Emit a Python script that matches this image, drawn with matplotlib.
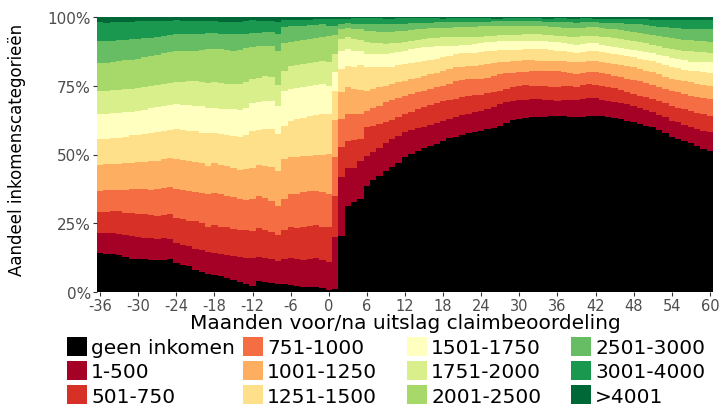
import numpy as np
import matplotlib
matplotlib.use("Agg")
import matplotlib.pyplot as plt
from matplotlib.patches import Patch

plt.rcParams['axes.unicode_minus'] = False

# months relative to the claim decision
maanden = list(range(-36, 61))

categorieen = ['geen inkomen', '1-500', '501-750', '751-1000', '1001-1250', '1251-1500',
               '1501-1750', '1751-2000', '2001-2500', '2501-3000', '3001-4000', '>4001']
kleuren = ['#000000', '#a50026', '#d73027', '#f46d43', '#fdae61', '#fee08b',
           '#ffffbf', '#d9ef8b', '#a6d96a', '#66bd63', '#1a9850', '#006837']

# cumulative share (%) at the upper edge of each income band, per month
cum_geen_inkomen = [
    14.2, 14.0, 14.0, 13.4, 12.7, 12.1, 11.9, 11.9, 11.5, 11.8, 11.5, 11.9,
    10.5, 10.0, 9.5, 8.1, 7.3, 6.4, 6.3, 5.7, 5.2, 4.5, 3.6, 3.0,
    2.2, 3.9, 3.6, 3.3, 3.0, 2.9, 2.7, 2.2, 1.9, 1.8, 1.8, 1.5, 0.7,
    1.1, 20.5, 31.4, 32.8, 33.8, 38.7, 40.7, 42.3, 44.1, 45.3, 46.8, 49.0,
    50.2, 51.4, 52.4, 53.2, 53.8, 55.0, 56.0, 56.5, 57.2, 57.8, 58.2, 58.7,
    59.2, 59.8, 60.5, 61.5, 62.5, 62.9, 63.2, 63.5, 63.5, 63.8, 64.0, 64.1,
    64.0, 63.8, 63.5, 63.8, 64.0, 64.1, 63.9, 63.6, 63.3, 62.8, 62.3, 61.7,
    61.0, 60.4, 59.9, 58.9, 57.8, 56.2, 55.6, 54.8, 54.1, 53.2, 52.0, 51.2]
cum_1_500 = [
    21.6, 21.4, 21.3, 21.1, 20.7, 20.3, 20.0, 19.8, 19.5, 19.4, 19.6, 19.3,
    17.8, 17.2, 16.6, 15.6, 15.2, 14.4, 14.3, 13.9, 13.4, 13.0, 12.6, 12.4,
    12.2, 12.9, 12.4, 11.9, 11.4, 11.9, 12.2, 12.0, 11.8, 12.1, 12.4, 11.8, 11.0,
    19.9, 41.7, 45.0, 45.2, 47.5, 49.6, 51.0, 52.5, 54.2, 55.5, 56.8, 58.1,
    58.8, 59.5, 60.0, 60.8, 61.5, 62.3, 63.0, 63.5, 64.2, 64.8, 65.3, 65.9,
    66.5, 67.2, 68.2, 69.0, 69.6, 69.8, 70.0, 70.2, 70.2, 70.0, 69.8, 69.6,
    69.8, 70.0, 69.8, 70.2, 70.5, 70.4, 70.0, 69.5, 69.0, 68.6, 68.2, 67.7,
    67.0, 66.2, 65.3, 64.5, 63.5, 62.3, 61.7, 60.8, 59.9, 59.2, 58.6, 58.1]
cum_501_750 = [
    29.0, 29.0, 29.3, 29.3, 28.9, 28.6, 28.4, 28.2, 28.1, 27.8, 28.1, 28.3,
    26.8, 26.4, 26.0, 25.7, 25.0, 23.6, 24.4, 23.8, 23.5, 22.9, 22.6, 22.4,
    22.3, 23.3, 22.6, 21.7, 20.9, 22.4, 23.5, 23.2, 23.8, 24.1, 24.4, 23.8, 23.5,
    35.0, 52.6, 55.0, 55.2, 55.8, 59.9, 60.5, 61.0, 61.7, 62.5, 63.5, 64.7,
    65.5, 66.4, 67.2, 67.9, 68.6, 69.3, 69.8, 70.2, 70.8, 71.2, 71.5, 71.8,
    72.3, 72.8, 73.2, 74.0, 74.6, 75.0, 75.1, 75.0, 75.0, 74.8, 74.7, 74.7,
    74.9, 75.0, 74.7, 75.2, 75.5, 75.4, 75.0, 74.6, 74.2, 73.5, 72.8, 72.0,
    71.4, 70.8, 70.2, 69.4, 68.6, 67.7, 67.0, 66.5, 65.9, 65.2, 64.6, 64.1]
cum_751_1000 = [
    36.6, 37.0, 37.2, 37.1, 37.0, 37.3, 37.5, 37.3, 37.2, 37.5, 38.0, 38.3,
    37.5, 37.0, 36.8, 36.2, 36.0, 35.6, 36.0, 35.5, 35.0, 34.4, 33.8, 33.5,
    34.0, 34.8, 34.2, 33.2, 31.4, 33.8, 35.6, 35.8, 36.2, 36.8, 36.9, 36.2, 35.6,
    49.0, 62.9, 64.7, 64.7, 64.9, 65.9, 66.8, 67.8, 69.0, 69.8, 70.6, 71.4,
    72.0, 72.6, 73.2, 73.8, 74.4, 75.0, 75.8, 76.8, 77.0, 77.3, 77.4, 77.5,
    78.0, 78.6, 79.3, 79.6, 79.8, 79.9, 80.1, 80.3, 80.5, 80.4, 80.2, 80.2,
    80.0, 79.8, 79.3, 79.6, 79.9, 79.9, 79.5, 79.1, 78.7, 78.2, 77.6, 77.1,
    76.6, 76.0, 75.4, 74.6, 73.9, 73.2, 72.6, 72.0, 71.4, 70.9, 70.5, 70.2]
cum_1001_1250 = [
    46.3, 46.4, 46.5, 46.5, 46.8, 47.0, 47.2, 47.3, 47.5, 47.8, 48.3, 48.6,
    48.4, 48.0, 47.6, 47.2, 46.8, 45.9, 46.8, 46.2, 45.7, 45.1, 44.5, 44.6,
    45.2, 46.2, 45.8, 45.3, 44.1, 48.5, 49.0, 49.2, 49.4, 49.6, 50.0, 50.0, 50.2,
    62.5, 72.6, 74.4, 74.0, 73.5, 73.2, 73.8, 74.4, 75.0, 75.6, 76.2, 76.8,
    77.4, 78.0, 78.7, 79.2, 79.8, 80.5, 81.0, 81.7, 82.0, 82.2, 82.3, 82.5,
    82.9, 83.2, 83.5, 83.8, 84.0, 84.1, 84.2, 84.3, 84.1, 84.0, 84.0, 84.1,
    83.9, 83.7, 83.5, 83.8, 84.1, 84.1, 83.8, 83.4, 82.9, 82.5, 82.1, 81.7,
    81.1, 80.5, 79.9, 79.2, 78.3, 77.5, 77.1, 76.7, 76.2, 75.8, 75.4, 75.0]
cum_1251_1500 = [
    55.6, 55.8, 56.0, 56.0, 56.5, 57.0, 57.2, 57.5, 57.8, 58.1, 58.6, 59.0,
    59.3, 58.8, 58.6, 58.4, 58.0, 57.7, 57.7, 57.4, 57.0, 56.8, 56.5, 57.0,
    58.7, 59.0, 59.2, 59.3, 57.5, 60.5, 62.3, 62.8, 63.3, 64.1, 64.4, 64.7, 64.7,
    73.2, 81.1, 82.3, 82.0, 82.6, 81.7, 81.7, 81.7, 81.7, 82.0, 82.4, 82.9,
    83.2, 83.6, 84.1, 84.5, 84.9, 85.3, 86.0, 86.5, 86.8, 87.0, 87.0, 87.2,
    87.5, 87.8, 88.0, 88.0, 88.0, 88.0, 88.2, 88.4, 88.4, 88.2, 88.0, 87.8,
    87.5, 87.2, 86.8, 87.2, 87.5, 87.5, 87.2, 86.8, 86.5, 86.1, 85.7, 85.3,
    84.8, 84.4, 83.9, 83.2, 82.5, 81.7, 81.3, 80.9, 80.5, 80.2, 80.0, 79.8]
cum_1501_1750 = [
    64.7, 64.8, 65.0, 65.0, 65.3, 65.6, 65.9, 66.3, 66.8, 67.2, 67.6, 68.0,
    68.2, 68.0, 67.9, 67.8, 67.5, 66.9, 66.9, 66.7, 66.6, 66.5, 66.2, 67.0,
    68.6, 69.0, 69.5, 69.3, 67.8, 73.2, 73.8, 74.2, 74.6, 75.0, 75.4, 75.6, 75.0,
    80.0, 87.8, 88.4, 87.8, 87.5, 86.5, 86.5, 86.5, 86.5, 86.8, 87.3, 87.8,
    88.2, 88.6, 89.0, 89.2, 89.4, 89.6, 89.6, 89.6, 89.8, 90.0, 90.2, 90.4,
    90.8, 91.0, 91.2, 91.2, 91.2, 91.2, 91.3, 91.4, 91.4, 91.2, 91.0, 90.8,
    90.5, 90.2, 89.9, 90.1, 90.4, 90.4, 90.0, 89.6, 89.2, 88.8, 88.4, 88.0,
    87.6, 87.2, 86.8, 86.3, 85.7, 85.1, 84.6, 84.2, 83.8, 83.7, 83.6, 83.5]
cum_1751_2000 = [
    73.0, 73.2, 73.4, 73.5, 73.7, 74.0, 74.2, 74.6, 75.0, 75.4, 75.8, 76.1,
    76.2, 76.4, 76.6, 76.8, 76.5, 76.0, 76.2, 76.0, 75.8, 75.7, 75.5, 76.2,
    77.5, 77.8, 78.4, 78.1, 75.4, 80.5, 82.3, 82.5, 82.9, 83.2, 83.6, 84.1, 83.5,
    86.5, 92.0, 92.6, 92.0, 91.5, 90.8, 90.6, 90.4, 90.2, 90.4, 90.6, 90.8,
    91.2, 91.6, 92.0, 92.2, 92.4, 92.6, 92.6, 92.6, 92.7, 92.8, 92.8, 92.8,
    93.0, 93.2, 93.4, 93.5, 93.6, 93.6, 93.7, 93.8, 93.8, 93.6, 93.4, 93.2,
    93.0, 92.9, 92.8, 93.0, 93.2, 93.2, 92.9, 92.6, 92.4, 92.0, 91.6, 91.2,
    90.8, 90.4, 89.9, 89.4, 88.9, 88.4, 88.1, 87.8, 87.5, 87.3, 87.1, 87.0]
cum_2001_2500 = [
    83.2, 83.4, 83.6, 83.9, 84.2, 84.5, 84.8, 85.3, 85.8, 86.3, 86.8, 87.2,
    87.6, 87.5, 87.6, 87.6, 87.9, 88.2, 88.5, 88.3, 88.0, 87.8, 88.0, 88.6,
    89.1, 89.3, 89.6, 89.6, 87.8, 90.5, 90.8, 91.2, 91.6, 92.0, 92.3, 92.6, 93.2,
    93.5, 95.6, 96.0, 95.8, 95.5, 95.0, 94.8, 94.6, 94.4, 94.6, 94.8, 95.0,
    95.3, 95.6, 95.8, 95.9, 96.0, 96.0, 96.1, 96.2, 96.3, 96.4, 96.5, 96.6,
    96.7, 96.8, 96.8, 96.8, 96.8, 96.8, 96.8, 96.8, 96.8, 96.6, 96.4, 96.2,
    96.1, 96.0, 96.0, 96.1, 96.2, 96.2, 96.0, 95.8, 95.6, 95.2, 94.8, 94.4,
    94.1, 93.8, 93.6, 93.2, 92.8, 92.4, 92.1, 91.8, 91.6, 91.3, 91.1, 91.0]
cum_2501_3000 = [
    91.2, 91.3, 91.4, 91.5, 91.7, 91.9, 92.1, 92.3, 92.5, 92.7, 93.0, 93.4,
    93.7, 93.8, 93.8, 93.9, 94.0, 94.1, 94.2, 94.0, 93.8, 93.7, 93.8, 94.0,
    94.2, 94.3, 94.4, 94.5, 93.7, 96.4, 96.6, 96.7, 96.9, 97.0, 97.1, 97.3, 96.8,
    96.8, 97.5, 97.7, 97.6, 97.6, 97.5, 97.4, 97.3, 97.3, 97.4, 97.5, 97.6,
    97.7, 97.8, 97.9, 98.0, 98.1, 98.1, 98.1, 98.2, 98.2, 98.3, 98.3, 98.3,
    98.3, 98.4, 98.4, 98.4, 98.4, 98.4, 98.4, 98.4, 98.4, 98.3, 98.3, 98.2,
    98.2, 98.1, 98.0, 98.1, 98.1, 98.1, 98.0, 97.9, 97.8, 97.7, 97.6, 97.5,
    97.3, 97.0, 96.8, 96.5, 96.3, 96.0, 95.9, 95.8, 95.6, 95.6, 95.5, 95.5]
cum_3001_4000 = [
    98.1, 98.0, 98.1, 98.1, 98.2, 98.3, 98.5, 98.4, 98.5, 98.5, 98.6, 98.7,
    98.8, 98.6, 98.5, 98.5, 98.4, 98.5, 98.5, 98.3, 98.2, 98.1, 98.3, 98.6,
    98.8, 98.7, 98.6, 98.5, 98.1, 98.8, 99.0, 99.0, 99.0, 99.0, 99.1, 99.3, 99.3,
    99.3, 99.4, 99.4, 99.5, 99.5, 99.6, 99.5, 99.5, 99.4, 99.4, 99.5, 99.5,
    99.5, 99.6, 99.6, 99.5, 99.5, 99.4, 99.5, 99.5, 99.6, 99.6, 99.5, 99.5,
    99.5, 99.4, 99.4, 99.5, 99.5, 99.5, 99.6, 99.5, 99.5, 99.4, 99.4, 99.5,
    99.5, 99.4, 99.4, 99.5, 99.5, 99.4, 99.4, 99.3, 99.3, 99.3, 99.2, 99.2,
    99.1, 99.1, 99.0, 99.0, 98.9, 98.8, 98.8, 98.8, 98.9, 98.8, 98.8, 98.8]

bovengrenzen = np.array([cum_geen_inkomen, cum_1_500, cum_501_750, cum_751_1000,
                         cum_1001_1250, cum_1251_1500, cum_1501_1750, cum_1751_2000,
                         cum_2001_2500, cum_2501_3000, cum_3001_4000,
                         [100.0] * len(maanden)])
ondergrenzen = np.vstack([np.zeros(len(maanden)), bovengrenzen[:-1]])

fig = plt.figure(figsize=(7.19, 4.10), dpi=100)
ax = fig.add_axes([97 / 719, 1 - 293 / 410, 616 / 719, 275 / 410])

for i in range(len(categorieen)):
    ax.bar(maanden, bovengrenzen[i] - ondergrenzen[i], bottom=ondergrenzen[i],
           width=1.0, color=kleuren[i], linewidth=0, label=categorieen[i])

ax.set_xlim(-36.5, 60.5)
ax.set_ylim(0, 100)
ax.set_xticks(range(-36, 61, 6))
ax.set_yticks([0, 25, 50, 75, 100])
ax.set_yticklabels(['0%', '25%', '50%', '75%', '100%'])
ax.tick_params(axis='both', colors='#333333', length=3, width=0.8, labelsize=10.5,
               labelcolor='#4d4d4d', pad=1)
ax.tick_params(axis='y', labelsize=11, pad=1.5)
for s in ax.spines.values():
    s.set_visible(False)

ax.set_xlabel('Maanden voor/na uitslag claimbeoordeling', fontsize=14.5)
ax.xaxis.set_label_coords(0.5, -21 / 275)
ax.xaxis.label.set_va('top')
ax.set_ylabel('Aandeel inkomenscategorieën', fontsize=12)
ax.yaxis.set_label_coords(-0.115, 0.52)

# legend below the plot: four columns of three entries
handles = [Patch(facecolor=c, edgecolor='none') for c in kleuren]
kolom_x = [67, 243, 407, 571]
for k in range(4):
    idx = range(3 * k, 3 * k + 3)
    fig.legend([handles[j] for j in idx], [categorieen[j] for j in idx],
               loc='upper left', bbox_to_anchor=(kolom_x[k] / 719, 1 - 338 / 410),
               frameon=False, fontsize=14.5, handlelength=1.0, handleheight=1.05,
               handletextpad=0.2, labelspacing=0.2, borderpad=0, borderaxespad=0)

fig.savefig('out.png', dpi=100)
